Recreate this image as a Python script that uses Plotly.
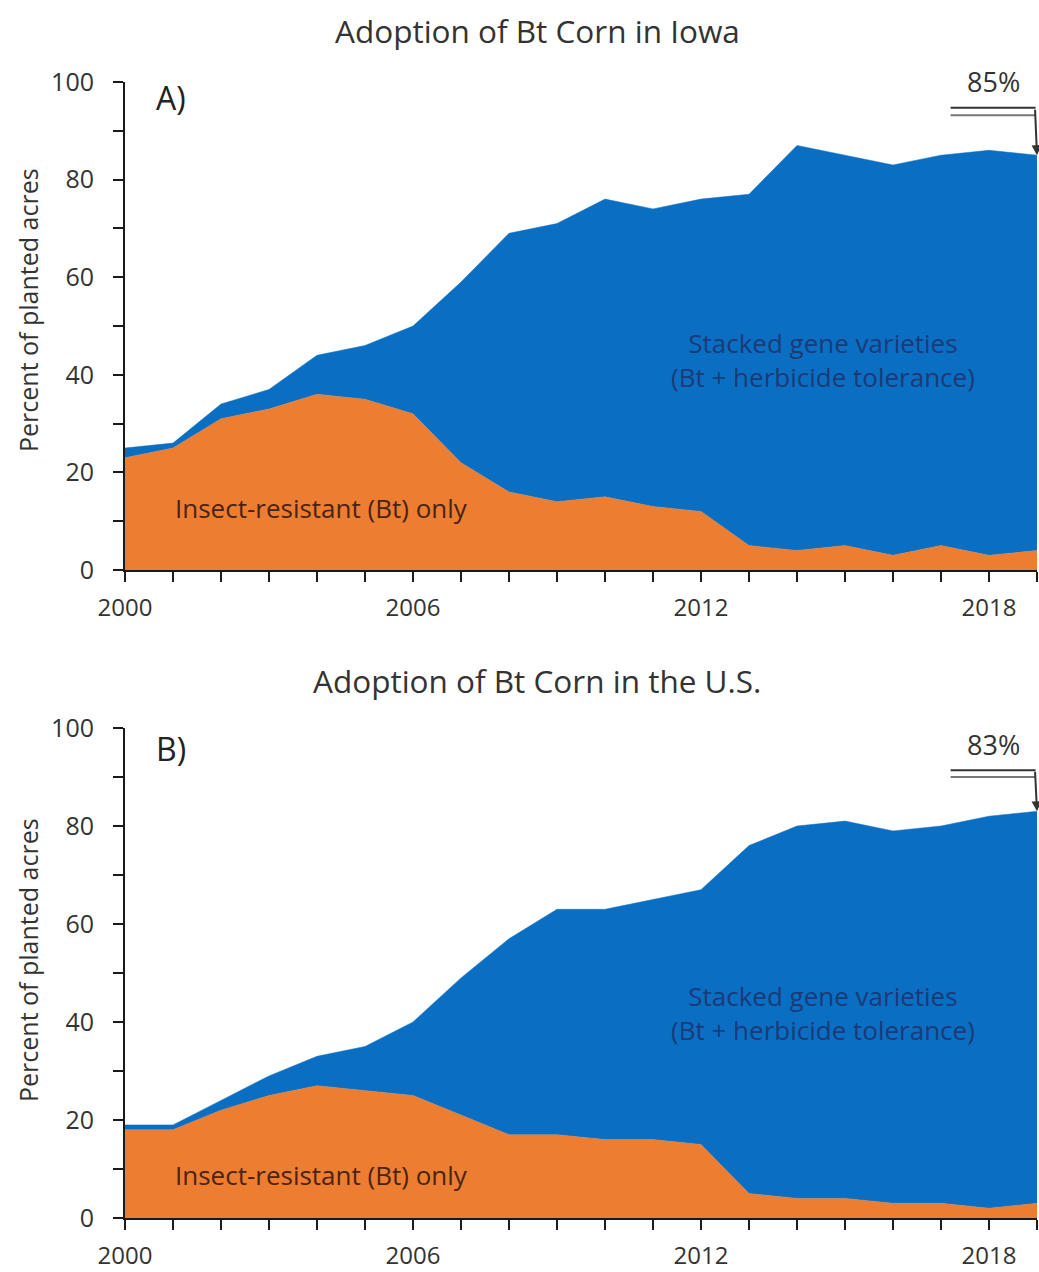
import plotly.graph_objects as go

years = list(range(2000, 2020))

iowa_total = [25, 26, 34, 37, 44, 46, 50, 59, 69, 71, 76, 74, 76, 77, 87, 85, 83, 85, 86, 85]
iowa_bt_only = [23, 25, 31, 33, 36, 35, 32, 22, 16, 14, 15, 13, 12, 5, 4, 5, 3, 5, 3, 4]

us_total = [19, 19, 24, 29, 33, 35, 40, 49, 57, 63, 63, 65, 67, 76, 80, 81, 79, 80, 82, 83]
us_bt_only = [18, 18, 22, 25, 27, 26, 25, 21, 17, 17, 16, 16, 15, 5, 4, 4, 3, 3, 2, 3]

titles = ["Adoption of Bt Corn in Iowa", "Adoption of Bt Corn in the U.S."]
panel_labels = ["A)", "B)"]
x_tick_vals = [2000, 2006, 2012, 2018]
y_title = "Percent of planted acres"
label_stacked = ["Stacked gene varieties", "(Bt + herbicide tolerance)"]
label_bt = "Insect-resistant (Bt) only"

ORANGE = "#ED7D31"
BLUE = "#0A6FC2"
FONT = "Open Sans"
TXT = "#333333"
AX = "#1a1a1a"
W, H = 1039, 1272

fig = go.Figure()

panels = [
    dict(total=iowa_total, bt=iowa_bt_only, top=82, bottom=570, title_y=30,
         ytitle_c=310, lab_y=96.8, stack_y=43, bt_y=12.7, line_dy=(9.7, 8.2), pct_shift=74, arrow_len=47),
    dict(total=us_total, bt=us_bt_only, top=728, bottom=1218, title_y=680,
         ytitle_c=960, lab_y=95.9, stack_y=41.8, bt_y=8.8, line_dy=(8.4, 7.0), pct_shift=67, arrow_len=41),
]

x0 = 125 / W
x1 = 1037 / W
layout = dict(
    width=W, height=H, margin=dict(l=0, r=0, t=0, b=0, autoexpand=False),
    plot_bgcolor="white", paper_bgcolor="white",
    font=dict(family=FONT, color=TXT, size=25),
    showlegend=False,
)
annotations = []
shapes = []
for i, p in enumerate(panels):
    sfx = "" if i == 0 else str(i + 1)
    xr, yr = "x" + sfx, "y" + sfx
    stacked = [t - b for t, b in zip(p["total"], p["bt"])]
    fig.add_trace(go.Scatter(x=years, y=p["bt"], xaxis=xr, yaxis=yr,
                             mode="lines", line=dict(width=0.5, color=ORANGE),
                             fillcolor=ORANGE, stackgroup="g" + str(i), hoverinfo="x+y",
                             showlegend=False, name=label_bt))
    fig.add_trace(go.Scatter(x=years, y=stacked, xaxis=xr, yaxis=yr,
                             mode="lines", line=dict(width=0.5, color=BLUE),
                             fillcolor=BLUE, stackgroup="g" + str(i), hoverinfo="x+y",
                             showlegend=False, name="Stacked gene varieties"))

    dom_y = [1 - p["bottom"] / H, 1 - p["top"] / H]
    layout["xaxis" + sfx] = dict(
        domain=[x0, x1], range=[2000, 2019], anchor=yr, automargin=False,
        tickvals=x_tick_vals, ticks="outside", ticklen=10, tickwidth=2, tickcolor=AX,
        minor=dict(dtick=1, tick0=2000, ticks="outside", ticklen=10, tickwidth=2, tickcolor=AX),
        showline=True, linecolor=AX, linewidth=2, showgrid=False, zeroline=False,
        ticklabelstandoff=5,
        tickfont=dict(size=24, color=TXT, family=FONT),
    )
    layout["yaxis" + sfx] = dict(
        domain=dom_y, range=[0, 100], anchor=xr, automargin=False,
        dtick=20, tick0=0, ticks="outside", ticklen=10, tickwidth=2, tickcolor=AX,
        minor=dict(dtick=10, ticks="outside", ticklen=10, tickwidth=2, tickcolor=AX),
        showline=True, linecolor=AX, linewidth=2, showgrid=False, zeroline=False,
        ticklabelstandoff=14,
        tickfont=dict(size=25, color=TXT, family=FONT),
    )
    # chart title
    annotations.append(dict(text=titles[i], xref="paper", yref="paper", x=537 / W, y=1 - p["title_y"] / H,
                            showarrow=False, xanchor="center", yanchor="middle",
                            font=dict(size=31.5, color=TXT, family=FONT)))
    # y-axis title
    annotations.append(dict(text=y_title, xref="paper", yref="paper", x=28 / W, y=1 - p["ytitle_c"] / H,
                            showarrow=False, xanchor="center", yanchor="middle", textangle=-90,
                            font=dict(size=25, color=TXT, family=FONT)))
    # panel label
    annotations.append(dict(text=panel_labels[i], xref=xr, yref=yr, x=2000.95, y=p["lab_y"],
                            showarrow=False, xanchor="center", yanchor="middle",
                            font=dict(size=32, color="#222", family=FONT)))
    # area labels
    annotations.append(dict(text=label_stacked[0] + "<br>" + label_stacked[1], xref=xr, yref=yr,
                            x=2014.55, y=p["stack_y"],
                            showarrow=False, xanchor="center", yanchor="middle",
                            font=dict(size=26, color="#1B3A78", family=FONT)))
    annotations.append(dict(text=label_bt, xref=xr, yref=yr, x=2004.1, y=p["bt_y"],
                            showarrow=False, xanchor="center", yanchor="middle",
                            font=dict(size=26, color="#4A2412", family=FONT)))
    # percentage callout
    total_last = p["total"][-1]
    annotations.append(dict(text=f"{total_last}%", xref=xr, yref=yr, x=2019, y=total_last,
                            xshift=-44, yshift=p["pct_shift"],
                            showarrow=False, xanchor="center", yanchor="middle",
                            font=dict(size=27, color=TXT, family=FONT)))
    annotations.append(dict(text="", xref=xr, yref=yr, x=2019, y=total_last,
                            ax=-2, ay=-p["arrow_len"],
                            showarrow=True, arrowhead=2, arrowsize=1, arrowwidth=2, arrowcolor="#333"))
    for k, dy in enumerate(p["line_dy"]):
        shapes.append(dict(type="line", xref=xr, yref=yr, x0=2017.2, x1=2018.97,
                           y0=total_last + dy, y1=total_last + dy,
                           line=dict(color="#333" if k == 0 else "#777", width=2)))

layout["annotations"] = annotations
layout["shapes"] = shapes
fig.update_layout(**layout)

fig.write_html("out.html")
